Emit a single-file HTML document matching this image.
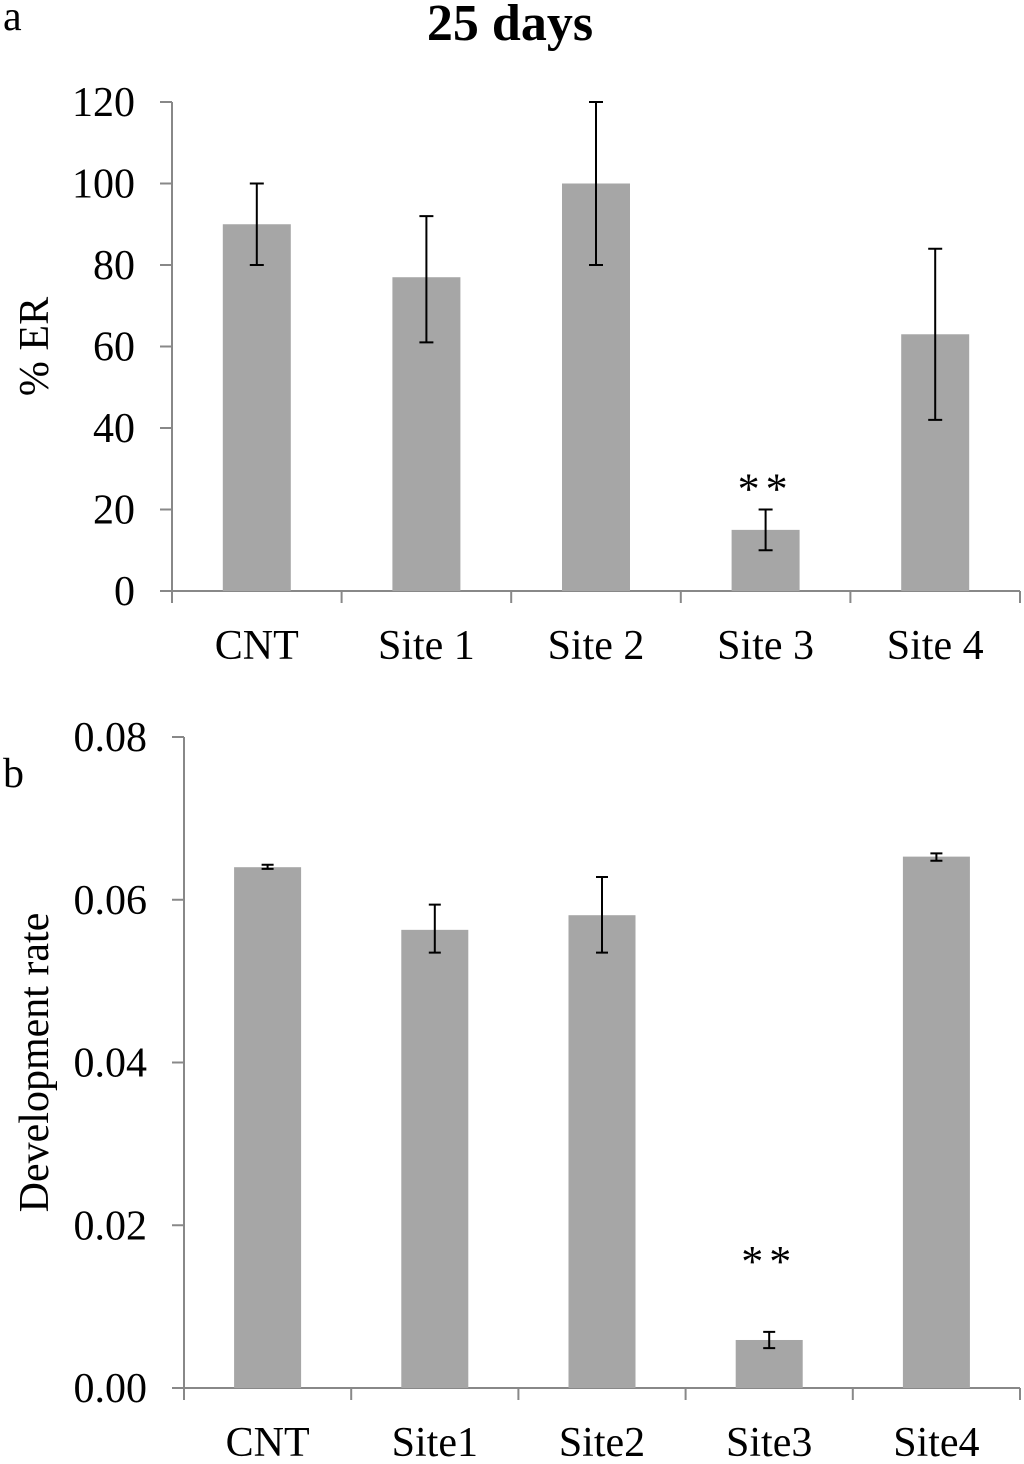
<!DOCTYPE html>
<html><head><meta charset="utf-8"><style>
body{margin:0;background:#fff;}
svg text{font-family:"Liberation Serif",serif;fill:#000;}
</style></head><body>
<svg width="1024" height="1459" viewBox="0 0 1024 1459" xmlns="http://www.w3.org/2000/svg">
<text x="3" y="30" font-size="42">a</text>
<text x="510" y="40" font-size="52" font-weight="bold" text-anchor="middle">25 days</text>
<text x="3" y="787" font-size="42">b</text>
<g id="chartA"></g>
<g id="chartB"></g>
</svg>
<script>
const catsA=["CNT","Site 1","Site 2","Site 3","Site 4"];
const valsA=[90,77,100,15,63];
const errLoA=[80,61,80,10,42];
const errHiA=[100,92,120,20,84];
const ticksA=["0","20","40","60","80","100","120"];
const starsA=["","","","**",""];
const catsB=["CNT","Site1","Site2","Site3","Site4"];
const valsB=[0.0640,0.0563,0.0581,0.0059,0.0653];
const errLoB=[0.0638,0.0535,0.0535,0.0049,0.0648];
const errHiB=[0.0643,0.0594,0.0628,0.0069,0.0657];
const ticksB=["0.00","0.02","0.04","0.06","0.08"];
const starsB=["","","","**",""];
const NS="http://www.w3.org/2000/svg";
function mk(p,t,a){const e=document.createElementNS(NS,t);for(const k in a)e.setAttribute(k,a[k]);p.appendChild(e);return e;}
function draw(g,cfg){
  const {x0,x1,yTop,yBot,max,cats,vals,lo,hi,ticks,stars,title,titleX,barW,cap,starDy,labDy}=cfg;
  const y=v=>yBot-(v/max)*(yBot-yTop);
  const cw=(x1-x0)/cats.length;
  const ax=mk(g,"line",{x1:x0,y1:yTop,x2:x0,y2:yBot,stroke:"#888","stroke-width":2});
  
  
  const bx=mk(g,"line",{x1:x0,y1:yBot,x2:x1,y2:yBot,stroke:"#888","stroke-width":2});
  
  
  ticks.forEach((t,i)=>{
    const v=max*i/(ticks.length-1);const yy=y(v);
    const tk=mk(g,"line",{x1:x0-12,y1:yy,x2:x0,y2:yy,stroke:"#888","stroke-width":2});
    
    
    const tl=mk(g,"text",{x:x0-37,y:yy+14,"font-size":42,"text-anchor":"end"});tl.textContent=t;
    
    
  });
  for(let i=0;i<=cats.length;i++){
    const xx=x0+i*cw;
    const tk=mk(g,"line",{x1:xx,y1:yBot,x2:xx,y2:yBot+12,stroke:"#888","stroke-width":2});
    
    
  }
  cats.forEach((c,i)=>{
    const cx=x0+(i+0.5)*cw;
    const r=mk(g,"rect",{x:cx-barW/2,y:y(vals[i]),width:barW,height:yBot-y(vals[i]),fill:"#a6a6a6"});
    
    
    const e=mk(g,"path",{d:`M${cx-cap} ${y(hi[i])}H${cx+cap}M${cx} ${y(hi[i])}V${y(lo[i])}M${cx-cap} ${y(lo[i])}H${cx+cap}`,stroke:"#000","stroke-width":2,fill:"none"});
    
    
    const l=mk(g,"text",{x:cx,y:yBot+labDy,"font-size":42,"text-anchor":"middle"});l.textContent=c;
    
    
    if(stars[i]){const s=mk(g,"text",{x:cx,y:y(hi[i])-starDy,"font-size":44,"text-anchor":"middle","letter-spacing":"6"});s.textContent=stars[i];
      
      }
  });
  const tt=mk(g,"text",{x:0,y:0,"font-size":42,"text-anchor":"middle",transform:`translate(${titleX},${(yTop+yBot)/2}) rotate(-90)`});tt.textContent=title;
  
  
}
draw(document.getElementById("chartA"),{x0:172,x1:1020,yTop:102,yBot:591,max:120,cats:catsA,vals:valsA,lo:errLoA,hi:errHiA,ticks:ticksA,stars:starsA,title:"% ER",titleX:48,barW:68,cap:7,starDy:6,labDy:68});
draw(document.getElementById("chartB"),{x0:184,x1:1020,yTop:737,yBot:1388,max:0.08,cats:catsB,vals:valsB,lo:errLoB,hi:errHiB,ticks:ticksB,stars:starsB,title:"Development rate",titleX:48,barW:67,cap:6,starDy:56,labDy:68});
</script>
</body></html>
